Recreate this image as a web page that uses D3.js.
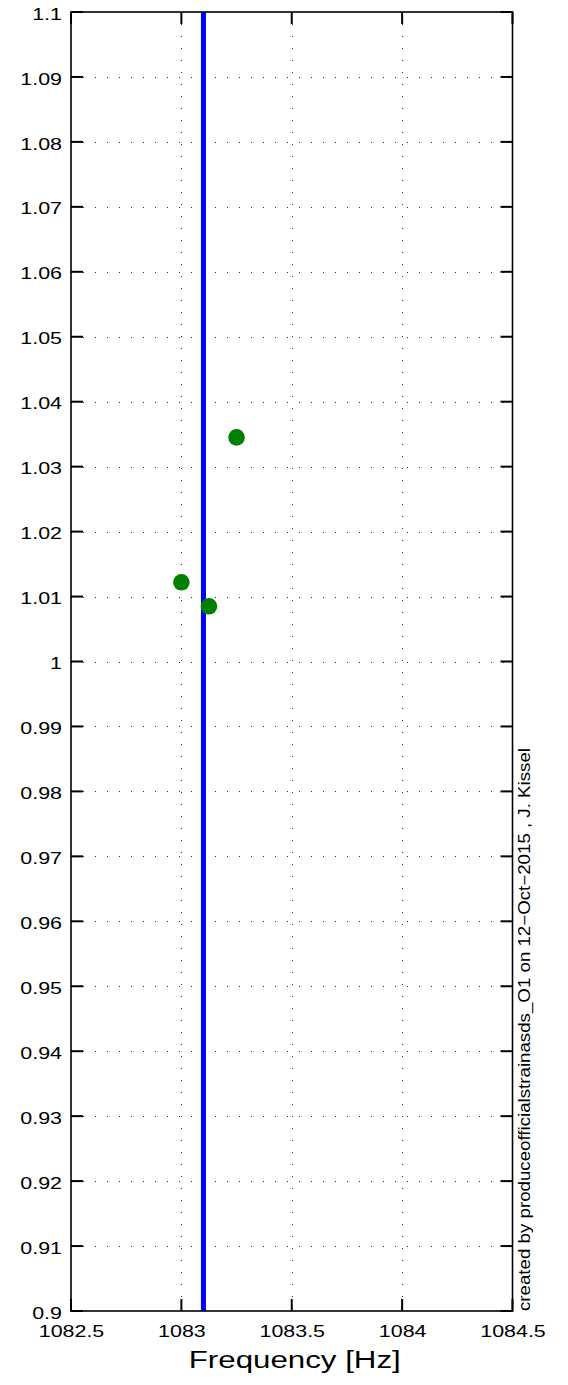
<!DOCTYPE html>
<html>
<head>
<meta charset="utf-8">
<script src="https://cdn.jsdelivr.net/npm/d3@7"></script>
<style>
  html, body { margin: 0; padding: 0; background: #fff; }
  svg { display: block; font-family: "Liberation Sans", Arial, Helvetica, sans-serif; }
</style>
</head>
<body>
<svg id="chart" width="568" height="1385"></svg>
<script>
// ---- data ----
const xDomain = [1082.5, 1084.5];
const yDomain = [0.9, 1.1];
const xTicks = [1082.5, 1083, 1083.5, 1084, 1084.5];
const xTickLabels = ["1082.5", "1083", "1083.5", "1084", "1084.5"];
const yTicks = [0.9, 0.91, 0.92, 0.93, 0.94, 0.95, 0.96, 0.97, 0.98, 0.99, 1, 1.01, 1.02, 1.03, 1.04, 1.05, 1.06, 1.07, 1.08, 1.09, 1.1];
const yTickLabels = ["0.9", "0.91", "0.92", "0.93", "0.94", "0.95", "0.96", "0.97", "0.98", "0.99", "1", "1.01", "1.02", "1.03", "1.04", "1.05", "1.06", "1.07", "1.08", "1.09", "1.1"];
const lineFreq = [1083.1];
const pointFreqs = [1083.0, 1083.125, 1083.25];
const pointValues = [1.0122, 1.0085, 1.0345];
const xLabel = "Frequency [Hz]";
const credit = "created by produceofficialstrainasds_O1 on 12\u2212Oct\u22122015 , J. Kissel";

// ---- layout ----
const L = 71, R = 512.5, T = 12, B = 1311;
const SX = 1.3; // horizontal stretch of text in the reference
const svg = d3.select("#chart");
const x = d3.scaleLinear().domain(xDomain).range([L, R]);
const y = d3.scaleLinear().domain(yDomain).range([B, T]);

// grid
const grid = svg.append("g").attr("stroke", "#333").attr("stroke-width", 1).attr("stroke-dasharray", "1,11");
grid.selectAll("line.gx").data(xTicks.slice(1, -1)).enter().append("line")
  .attr("x1", d => Math.round(x(d)) + 0.5).attr("x2", d => Math.round(x(d)) + 0.5)
  .attr("y1", T).attr("y2", B);
grid.selectAll("line.gy").data(yTicks.slice(1, -1)).enter().append("line")
  .attr("y1", d => Math.round(y(d)) + 0.5).attr("y2", d => Math.round(y(d)) + 0.5)
  .attr("x1", L).attr("x2", R);

// axes: labels through d3 axes
const tl = 12;
const fmtY = (d) => yTickLabels[yTicks.indexOf(d)];
const fmtX = (d) => xTickLabels[xTicks.indexOf(d)];
const axL = svg.append("g").attr("transform", `translate(${L},0)`)
  .call(d3.axisLeft(y).tickValues(yTicks).tickFormat(fmtY).tickSize(0).tickPadding(8));
const axB = svg.append("g").attr("transform", `translate(0,${B})`)
  .call(d3.axisBottom(x).tickValues(xTicks).tickFormat(fmtX).tickSize(0).tickPadding(14));
[axL, axB].forEach(a => { a.select(".domain").remove(); a.selectAll(".tick line").remove(); });
axL.selectAll(".tick text").attr("fill", "#000").style("font-size", "16.5px")
  .attr("x", null).attr("dy", null).attr("dominant-baseline", "central").attr("text-anchor", "end")
  .attr("transform", `translate(-9,1.5) scale(${SX},1)`);
axB.selectAll(".tick text").attr("fill", "#000").style("font-size", "16.5px")
  .attr("y", null).attr("dy", null).attr("text-anchor", "middle")
  .attr("transform", `translate(0,26) scale(${SX},1)`);

// inward tick marks on all four sides, drawn as filled rects
const tickG = svg.append("g").attr("fill", "#000");
tickG.selectAll("rect.yl").data(yTicks).enter().append("rect")
  .attr("x", L).attr("width", tl).attr("y", d => y(d) - 1).attr("height", 2);
tickG.selectAll("rect.yr").data(yTicks).enter().append("rect")
  .attr("x", R - tl).attr("width", tl).attr("y", d => y(d) - 1).attr("height", 2);
tickG.selectAll("rect.xb").data(xTicks).enter().append("rect")
  .attr("x", d => x(d) - 1).attr("width", 2).attr("y", B - tl).attr("height", tl);
tickG.selectAll("rect.xt").data(xTicks).enter().append("rect")
  .attr("x", d => x(d) - 1).attr("width", 2).attr("y", T).attr("height", tl);

// blue vertical line
svg.append("g").selectAll("line.vl").data(lineFreq).enter().append("line")
  .attr("x1", d => x(d)).attr("x2", d => x(d)).attr("y1", T).attr("y2", B)
  .attr("stroke", "#0000ff").attr("stroke-width", 5);

// green points
svg.append("g").selectAll("circle").data(pointFreqs).enter().append("circle")
  .attr("cx", d => x(d)).attr("cy", (d, i) => y(pointValues[i])).attr("r", 8.3)
  .attr("fill", "#008000");

// box
svg.append("rect").attr("x", L).attr("y", T).attr("width", R - L).attr("height", B - T)
  .attr("fill", "none").attr("stroke", "#000").attr("stroke-width", 1.6);

// x label
svg.append("text").attr("text-anchor", "middle").style("font-size", "23px").attr("fill", "#000")
  .attr("transform", `translate(${(L + R) / 2 + 3},1368) scale(1.36,1)`).text(xLabel);

// credit text (rotated)
svg.append("text").attr("text-anchor", "start").style("font-size", "12px").attr("fill", "#000")
  .attr("transform", `translate(530,${B}) scale(${SX},1) rotate(-90)`)
  .attr("textLength", 563).attr("lengthAdjust", "spacingAndGlyphs")
  .text(credit);
</script>
</body>
</html>
